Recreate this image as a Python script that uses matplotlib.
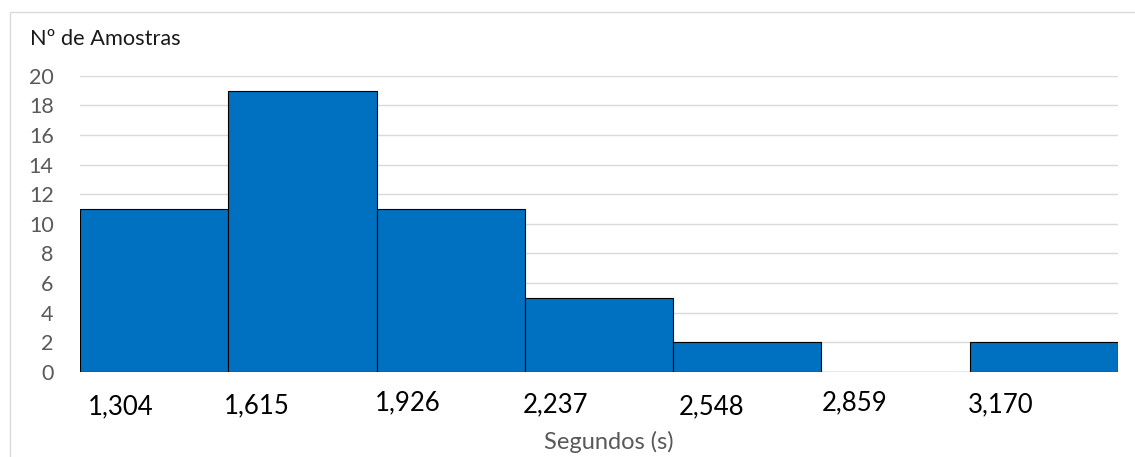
import matplotlib
matplotlib.use("Agg")
import matplotlib.pyplot as plt
from matplotlib.patches import Rectangle

plt.rcParams['font.family'] = ['Lato', 'DejaVu Sans']

# Histogram data: bin start values (seconds) and sample counts
bin_starts = [1.304, 1.615, 1.926, 2.237, 2.548, 2.859, 3.170]
bin_width = 0.311
counts = [11, 19, 11, 5, 2, 0, 2]
bin_labels = ["1,304", "1,615", "1,926", "2,237", "2,548", "2,859", "3,170"]
y_ticks = [0, 2, 4, 6, 8, 10, 12, 14, 16, 18, 20]

# label placement below the axis (offset points: x to label centre, y downward)
label_dx = [29.5, 20.2, 22.3, 22.3, 27.4, 23.8, 22.3]
label_dy = [-25.2, -24.5, -22.3, -23.8, -25.2, -22.3, -23.8]

W, H = 1135, 457
fig = plt.figure(figsize=(W / 100, H / 100), dpi=100)

# outer chart frame
fig.patches.append(Rectangle((9.5 / W, -0.1), 1.2, 1 - 11.5 / H + 0.1,
                             transform=fig.transFigure, fill=False,
                             edgecolor='#D9D9D9', linewidth=1.0))

left, right = 80 / W, 1118 / W
bottom, top = 1 - 372 / H, 1 - 75.7 / H
ax = fig.add_axes([left, bottom, right - left, top - bottom])

ax.bar(bin_starts, counts, width=bin_width, align='edge',
       color='#0070C0', edgecolor='black', linewidth=0.8, zorder=3)

ax.set_xlim(bin_starts[0], bin_starts[-1] + bin_width)
ax.set_ylim(0, 20)
ax.set_yticks(y_ticks)
ax.set_yticklabels([str(v) for v in y_ticks])
ax.tick_params(axis='y', length=0, pad=19, labelsize=15.5, labelcolor='#595959')
ax.set_xticks([])
ax.grid(axis='y', color='#D9D9D9', linewidth=1.0, zorder=0)
for s in ax.spines.values():
    s.set_visible(False)

for x, lab, dx, dy in zip(bin_starts, bin_labels, label_dx, label_dy):
    ax.annotate(lab, xy=(x, 0), xycoords=('data', 'axes fraction'),
                xytext=(dx, dy), textcoords='offset points',
                ha='center', va='center', fontsize=18.5, color='black')

fig.text(30 / W, 1 - 39 / H, "Nº de Amostras", ha='left', va='center',
         fontsize=15.7, color='#1a1a1a')
fig.text(609 / W, 1 - 442 / H, "Segundos (s)", ha='center', va='center',
         fontsize=17, color='#595959')

fig.savefig("out.png", dpi=100)
